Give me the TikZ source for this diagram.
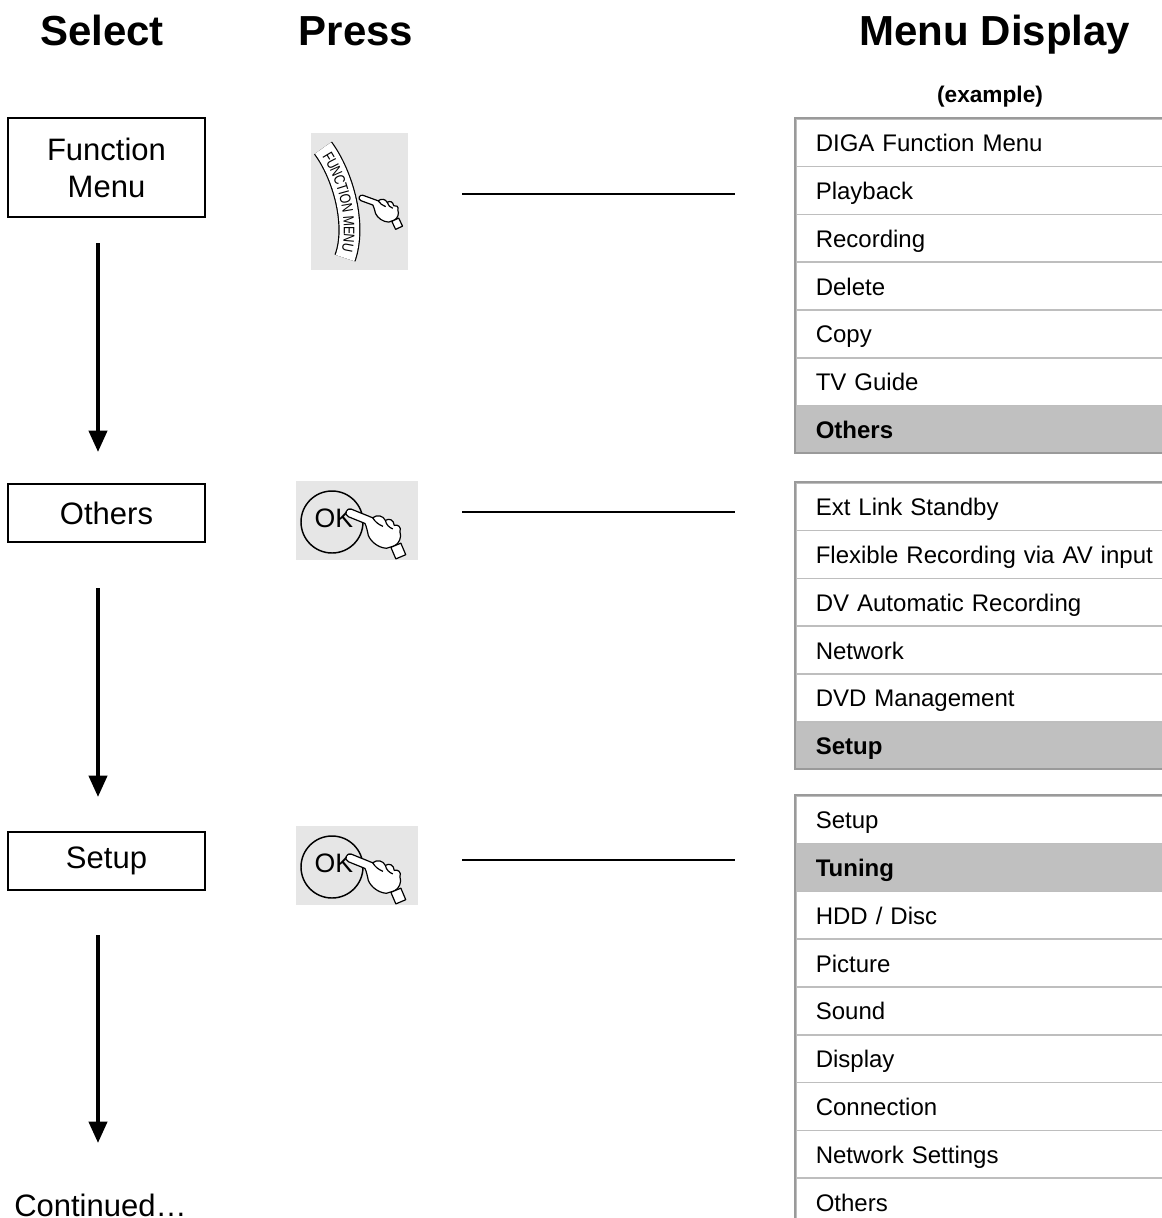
\documentclass[tikz,border=0pt]{standalone}
\usepackage{fontspec}
\setmainfont{Liberation Sans}
\usetikzlibrary{arrows.meta,decorations.text}
\definecolor{menuhl}{HTML}{C0C0C0}
\definecolor{menusep}{HTML}{BEBEBE}
\definecolor{menuedgec}{HTML}{9A9A9A}
\definecolor{btnbg}{HTML}{E6E6E6}
\newfontfamily\bandfont[FakeStretch=0.8]{Liberation Sans}
\newcommand\myhand{%
 \draw[handline] (0,-3.2) -- (18,-3.2) .. controls (20,-7) and (25,-8) .. (28,-5) .. controls (30,-8) and (34,-8) .. (36,-4) .. controls (38,-6) and (42,-5) .. (42,-1) .. controls (45,2) and (45,8) .. (42,11) -- (37,15) .. controls (31,17) and (24,15) .. (20,11) .. controls (18,8) and (16,5) .. (14,3.2) -- (0,3.2) .. controls (-4.3,3.2) and (-4.3,-3.2) .. (0,-3.2) -- cycle;
 \draw[handline,fill=none] (18,-3.2) .. controls (21,-1) and (24,0) .. (28,0);
 \draw[handline,fill=none] (28,-5) .. controls (30,-2) and (33,-1) .. (36,-1);
 \draw[handline] (40,13) -- (46,7) -- (53,14) -- (47,20) -- cycle;}
\begin{document}
\begin{tikzpicture}[x=0.75pt,y=-0.75pt,
  hdr/.style={font=\fontsize{31.5}{36}\selectfont\bfseries,anchor=base,inner sep=0pt},
  selbox/.style={draw,line width=1pt,minimum width=147.75pt,align=center,font=\fontsize{23.25}{27.75}\selectfont,inner sep=0pt},
  flowarrow/.style={line width=3pt,-{Triangle[width=13.5pt,length=16pt]}},
  link/.style={line width=1.1pt},
  btn/.style={fill=btnbg,inner sep=0pt},
  handline/.style={line width=0.9pt,fill=white,line join=round},
  menurow/.style={draw=menusep,line width=1.2pt,fill=white,anchor=north west,minimum height=35.85pt,text width=330pt,inner xsep=15pt,align=left,font=\fontsize{18}{18}\selectfont,text height=13.5pt,text depth=0pt},
  hlrow/.style={menurow,fill=menuhl,font=\fontsize{18}{18}\selectfont\bfseries},
  edgeline/.style={draw=menuedgec,line width=1.5pt}
]
\useasboundingbox (0,0) rectangle (1162,1218);
\clip (0,0) rectangle (1162,1218);

% headers
\node[hdr] (hsel) at (102,45) {Select};
\node[hdr] (hpress) at (356,45) {Press};
\node[hdr] (hmenu) at (995,45) {Menu Display};
\node[font=\fontsize{17}{20}\selectfont\bfseries,anchor=base,inner sep=0pt] (hex) at (990,102) {(example)};

% select column
\node[selbox,minimum height=74.25pt] (sfm) at (106.5,167.5) {Function\\Menu};
\node[selbox,minimum height=43.5pt] (soth) at (106.5,513) {Others};
\node[selbox,minimum height=43.5pt] (sset) at (106.5,861) {Setup};
\node[font=\fontsize{23.25}{27.75}\selectfont,anchor=base west,inner sep=0pt] (cont) at (14,1216) {Continued…};

\coordinate (a1s) at (98,243); \coordinate (a1e) at (98,452);
\coordinate (a2s) at (98,588); \coordinate (a2e) at (98,797);
\coordinate (a3s) at (98,935); \coordinate (a3e) at (98,1143);
\draw[flowarrow] (a1s) -- (a1e);
\draw[flowarrow] (a2s) -- (a2e);
\draw[flowarrow] (a3s) -- (a3e);

% buttons
\node[btn,minimum width=72.75pt,minimum height=102.75pt] (bfm) at (359.5,201.5) {};
\node[btn,minimum width=91.5pt,minimum height=59.25pt] (bok1) at (357,520.5) {};
\node[btn,minimum width=91.5pt,minimum height=59.25pt] (bok2) at (357,865.5) {};

% function menu button
\draw[line width=16.5pt] (323,148) .. controls (343,175) and (357,225) .. (345,258);
\draw[white,line width=14.7pt] (323,148) .. controls (343,175) and (357,225) .. (345,258);
\path[decorate,decoration={text along path,text={|\fontsize{11.5}{11.5}\bandfont|FUNCTION MENU},text align=center,raise=-4.1pt}] (323,148) .. controls (343,175) and (357,225) .. (345,258);
\begin{scope}[shift={(362,198)},rotate=-20,scale=0.9]\myhand\end{scope}

% OK buttons
\draw[line width=1.1pt] (332,522) circle[radius=31];
\node[font=\fontsize{20}{20}\selectfont,inner sep=0pt] (ok1) at (334,518) {OK};
\begin{scope}[shift={(350,513)},rotate=-22,scale=1.27]\myhand\end{scope}
\draw[line width=1.1pt] (332,867) circle[radius=31];
\node[font=\fontsize{20}{20}\selectfont,inner sep=0pt] (ok2) at (334,863) {OK};
\begin{scope}[shift={(350,858)},rotate=-22,scale=1.27]\myhand\end{scope}

% links
\coordinate (l1a) at (462,194); \coordinate (l1b) at (735,194);
\coordinate (l2a) at (462,512); \coordinate (l2b) at (735,512);
\coordinate (l3a) at (462,860); \coordinate (l3b) at (735,860);
\draw[link] (l1a) -- (l1b);
\draw[link] (l2a) -- (l2b);
\draw[link] (l3a) -- (l3b);

% menus
\foreach \t/\s [count=\i] in {DIGA Function Menu/menurow, Playback/menurow, Recording/menurow, Delete/menurow, Copy/menurow, TV Guide/menurow, Others/hlrow}
  \node[\s] (m1r\i) at (795,{118+(\i-1)*47.8}) {\t};
\draw[edgeline] (1170,118) -- (795,118) -- (795,452.6) -- (1170,452.6);

\foreach \t/\s [count=\i] in {Ext Link Standby/menurow, Flexible Recording via AV input/menurow, DV Automatic Recording/menurow, Network/menurow, DVD Management/menurow, Setup/hlrow}
  \node[\s] (m2r\i) at (795,{482+(\i-1)*47.8}) {\t};
\draw[edgeline] (1170,482) -- (795,482) -- (795,768.8) -- (1170,768.8);

\foreach \t/\s [count=\i] in {Setup/menurow, Tuning/hlrow, {HDD / Disc}/menurow, Picture/menurow, Sound/menurow, Display/menurow, Connection/menurow, Network Settings/menurow, Others/menurow}
  \node[\s] (m3r\i) at (795,{795+(\i-1)*47.8}) {\t};
\draw[edgeline] (1170,795) -- (795,795) -- (795,1240);
\end{tikzpicture}
\end{document}
